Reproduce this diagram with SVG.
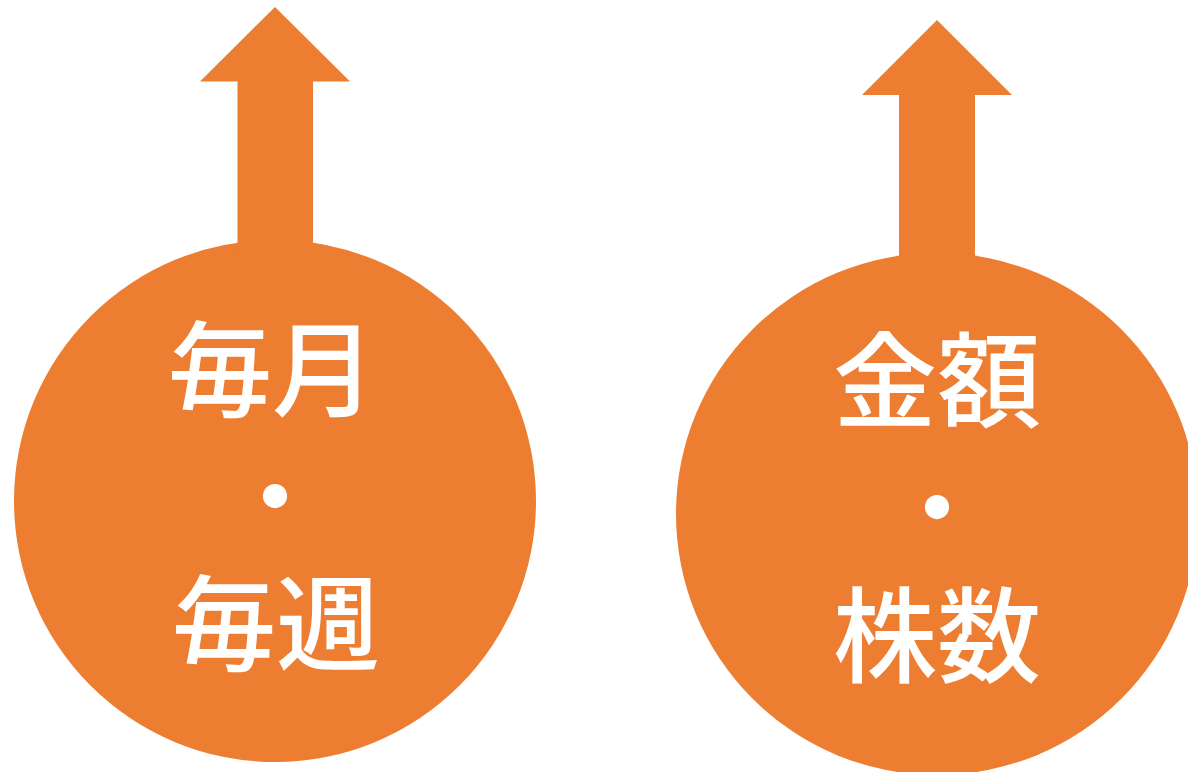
<svg xmlns="http://www.w3.org/2000/svg" width="1188" height="772" viewBox="0 0 1188 772">
<style>
.s{fill:#ED7D31}
.t{fill:#fff;font-family:"Noto Sans CJK JP","Noto Sans CJK SC",sans-serif;font-weight:500;font-size:104px;text-anchor:middle}
</style>
<rect width="1188" height="772" fill="#fff"/>
<g id="node-left">
<circle class="s" cx="275" cy="501" r="261"/>
<polygon class="s" points="275,7 350,81.5 313,81.5 313,260 237.5,260 237.5,81.5 200,81.5"/>
<text class="t"><tspan x="272" y="409">毎月</tspan><tspan x="275" y="536">・</tspan><tspan x="276" y="663">毎週</tspan></text>
</g>
<g id="node-right">
<circle class="s" cx="937" cy="514" r="261"/>
<polygon class="s" points="937,20 1012,95 975,95 975,270 899,270 899,95 862,95"/>
<text class="t"><tspan x="937" y="420">金額</tspan><tspan x="937" y="547">・</tspan><tspan x="937" y="675">株数</tspan></text>
</g>
<g id="connectors"/>
</svg>
